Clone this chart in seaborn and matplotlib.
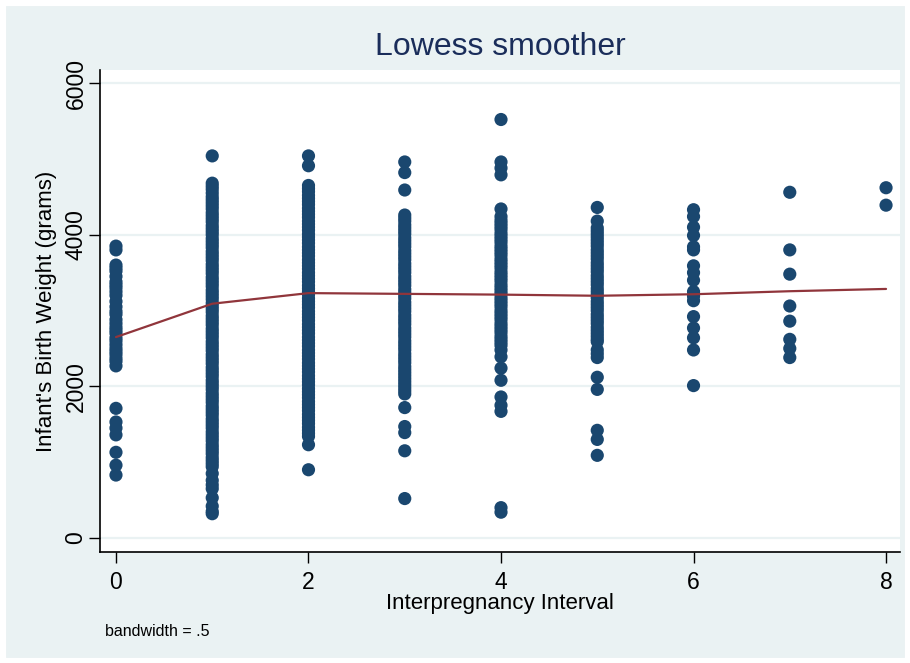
import matplotlib
matplotlib.use("Agg")
import matplotlib.pyplot as plt
import seaborn as sns
import pandas as pd
from matplotlib.patches import Rectangle

# ---- data ----
interval_0 = [3850, 3800, 3600, 3560, 3520, 3450, 3380, 3340, 3300, 3250, 3200, 3120, 3050,
              2990, 2950, 2880, 2830, 2780, 2740, 2700, 2640, 2600, 2550, 2500, 2460, 2420,
              2370, 2330, 2270, 1710, 1530, 1450, 1360, 1130, 960, 830]
interval_1 = [5040, 4680, 4640, 4600, 4550, 4500, 4460, 4420, 4380, 4340, 4290, 4250, 4210,
              4170, 4120, 4080, 4040, 4000, 3950, 3910, 3870, 3830, 3780, 3740, 3700, 3660,
              3610, 3570, 3530, 3490, 3440, 3400, 3360, 3320, 3270, 3230, 3190, 3150, 3100,
              3060, 3020, 2980, 2930, 2890, 2850, 2810, 2760, 2720, 2680, 2640, 2590, 2550,
              2510, 2470, 2420, 2380, 2340, 2300, 2250, 2210, 2170, 2130, 2080, 2040, 2000,
              1960, 1910, 1870, 1830, 1790, 1740, 1700, 1660, 1620, 1570, 1530, 1490, 1450,
              1400, 1360, 1320, 1280, 1230, 1190, 1150, 1110, 1060, 1020, 980, 940, 850, 760,
              700, 650, 530, 420, 350, 320]
interval_2 = [5040, 4910, 4650, 4610, 4570, 4520, 4480, 4440, 4400, 4350, 4310, 4270, 4230,
              4180, 4140, 4100, 4060, 4010, 3970, 3930, 3890, 3840, 3800, 3760, 3720, 3670,
              3630, 3590, 3550, 3500, 3460, 3420, 3380, 3330, 3290, 3250, 3210, 3160, 3120,
              3080, 3040, 2990, 2950, 2910, 2870, 2820, 2780, 2740, 2700, 2650, 2610, 2570,
              2530, 2480, 2440, 2400, 2360, 2310, 2270, 2230, 2190, 2140, 2100, 2060, 2020,
              1970, 1930, 1890, 1850, 1800, 1760, 1720, 1680, 1630, 1590, 1550, 1510, 1460,
              1420, 1380, 1340, 1230, 900]
interval_3 = [4960, 4820, 4590, 4260, 4220, 4180, 4130, 4090, 4050, 4010, 3960, 3920, 3880,
              3840, 3790, 3750, 3710, 3670, 3620, 3580, 3540, 3500, 3450, 3410, 3370, 3330,
              3280, 3240, 3200, 3160, 3110, 3070, 3030, 2990, 2940, 2900, 2860, 2820, 2770,
              2730, 2690, 2650, 2600, 2560, 2520, 2480, 2430, 2390, 2350, 2310, 2260, 2220,
              2180, 2140, 2100, 2060, 2020, 1980, 1940, 1900, 1720, 1470, 1390, 1150, 520]
interval_4 = [5520, 4960, 4880, 4790, 4340, 4240, 4190, 4150, 4110, 4070, 4020, 3980, 3940,
              3900, 3850, 3810, 3770, 3730, 3680, 3640, 3600, 3560, 3510, 3470, 3430, 3390,
              3340, 3300, 3260, 3220, 3170, 3130, 3090, 3050, 3000, 2960, 2920, 2880, 2830,
              2790, 2750, 2710, 2660, 2620, 2580, 2540, 2480, 2390, 2240, 2080, 1860, 1750,
              1670, 400, 340]
interval_5 = [4360, 4180, 4090, 4050, 4010, 3970, 3930, 3890, 3850, 3800, 3760, 3720, 3680,
              3630, 3590, 3550, 3510, 3460, 3420, 3380, 3340, 3290, 3250, 3210, 3170, 3120,
              3080, 3040, 3000, 2950, 2910, 2870, 2830, 2780, 2740, 2700, 2660, 2620, 2590,
              2480, 2430, 2380, 2120, 1960, 1420, 1300, 1090]
interval_6 = [4330, 4240, 4100, 3990, 3840, 3800, 3590, 3500, 3400, 3250, 3190, 3130, 2920,
              2770, 2640, 2480, 2010]
interval_7 = [4560, 3800, 3480, 3060, 2860, 2620, 2500, 2380]
interval_8 = [4620, 4390]

lowess_x = [0, 1, 2, 3, 4, 5, 6, 7, 8]
lowess_y = [2650, 3090, 3230, 3220, 3210, 3195, 3215, 3255, 3285]

x_ticks = [0, 2, 4, 6, 8]
y_ticks = [0, 2000, 4000, 6000]

title = "Lowess smoother"
x_label = "Interpregnancy Interval"
y_label = "Infant's Birth Weight (grams)"
note = "bandwidth = .5"

groups = [interval_0, interval_1, interval_2, interval_3, interval_4,
          interval_5, interval_6, interval_7, interval_8]
rows = []
for k, vals in enumerate(groups):
    for v in vals:
        rows.append({"interval": k, "weight": v})
df = pd.DataFrame(rows)
line_df = pd.DataFrame({"interval": lowess_x, "weight": lowess_y})

# ---- style ----
sns.set_theme(style="white")
plt.rcParams['font.family'] = ['Liberation Sans Narrow', 'Liberation Sans', 'DejaVu Sans']

BG = "#eaf2f3"
NAVY = "#1a476f"
MAROON = "#90353b"

fig = plt.figure(figsize=(9.1, 6.63), dpi=100, facecolor=BG)
fig.patches.append(Rectangle((0, 0), 1, 1, transform=fig.transFigure, fill=False,
                             edgecolor="white", linewidth=8, zorder=10))
ax = fig.add_axes([100 / 910, 1 - 552 / 663, 800 / 910, (552 - 70) / 663])
ax.set_facecolor("white")

for yt in y_ticks:
    ax.axhline(yt, color=BG, linewidth=1.6, zorder=0)

sns.scatterplot(data=df, x="interval", y="weight", ax=ax, color=NAVY, s=90,
                edgecolor="none", linewidth=0, zorder=2, legend=False)
sns.lineplot(data=line_df, x="interval", y="weight", ax=ax, color=MAROON,
             linewidth=1.6, zorder=3, legend=False)

ax.set_xlim(-0.166, 8.145)
ax.set_ylim(-185, 6173)
ax.set_xticks(x_ticks)
ax.set_yticks(y_ticks)
ax.tick_params(axis="both", direction="out", length=8, width=1, color="black",
               labelsize=16.5, labelcolor="black", bottom=True, left=True)
ax.tick_params(axis="x", pad=6)
ax.tick_params(axis="y", pad=1)
for lab in ax.get_yticklabels():
    lab.set_rotation(90)
    lab.set_va("center")

for side in ["top", "right"]:
    ax.spines[side].set_visible(False)
for side in ["left", "bottom"]:
    ax.spines[side].set_color("black")
    ax.spines[side].set_linewidth(1.2)

ax.set_xlabel(x_label, fontsize=16, color="black")
ax.set_ylabel(y_label, fontsize=16, color="black")
ax.xaxis.set_label_coords(0.5, (552 - 603) / 482)
ax.yaxis.set_label_coords((47 - 100) / 800, 0.5)
ax.xaxis.label.set_va("center")
ax.yaxis.label.set_va("center")

fig.text(500 / 910, 1 - 47 / 663, title, ha="center", va="center",
         fontsize=23, color="#1a2d5a")
fig.text(105 / 910, 1 - 632 / 663, note, ha="left", va="center",
         fontsize=11.5, color="black")

fig.savefig("out.png", dpi=100, facecolor=BG)
